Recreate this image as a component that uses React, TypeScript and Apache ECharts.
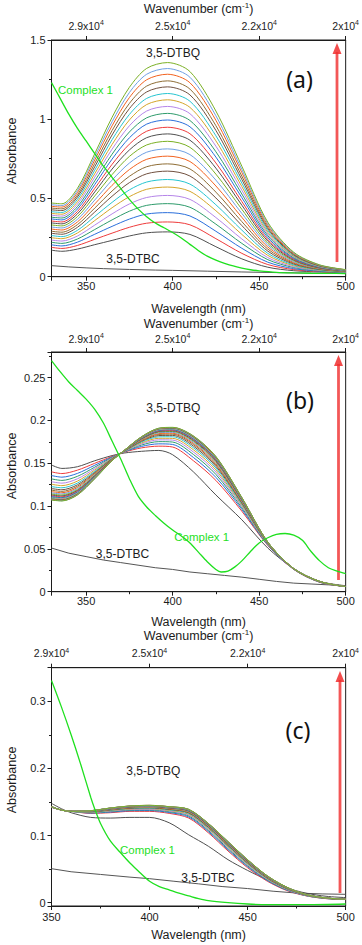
import React, { useEffect, useRef } from "react";
import * as echarts from "echarts";

// ---------------- data ----------------
// Panel (a)
const waveA = [330, 336, 345, 355, 365, 375, 385, 397, 410, 425, 440, 455, 470, 485, 500];
const dtbqA: number[][] = [
  [0.168, 0.161, 0.175, 0.203, 0.23, 0.258, 0.278, 0.284, 0.268, 0.19, 0.113, 0.06, 0.038, 0.03, 0.025],
  [0.186, 0.179, 0.198, 0.237, 0.276, 0.313, 0.339, 0.347, 0.329, 0.241, 0.148, 0.077, 0.045, 0.0326, 0.026],
  [0.202, 0.195, 0.219, 0.269, 0.319, 0.365, 0.397, 0.406, 0.385, 0.288, 0.18, 0.092, 0.051, 0.0351, 0.027],
  [0.218, 0.211, 0.239, 0.299, 0.36, 0.415, 0.452, 0.463, 0.44, 0.333, 0.211, 0.108, 0.058, 0.0375, 0.028],
  [0.232, 0.226, 0.258, 0.327, 0.398, 0.461, 0.502, 0.515, 0.49, 0.375, 0.239, 0.121, 0.063, 0.0397, 0.029],
  [0.247, 0.241, 0.277, 0.356, 0.437, 0.507, 0.554, 0.568, 0.541, 0.418, 0.268, 0.135, 0.069, 0.0419, 0.03],
  [0.261, 0.254, 0.294, 0.382, 0.471, 0.55, 0.6, 0.616, 0.587, 0.456, 0.295, 0.148, 0.074, 0.0439, 0.031],
  [0.275, 0.269, 0.313, 0.41, 0.51, 0.596, 0.652, 0.669, 0.638, 0.499, 0.324, 0.162, 0.08, 0.0461, 0.032],
  [0.288, 0.282, 0.33, 0.435, 0.543, 0.636, 0.697, 0.715, 0.683, 0.536, 0.349, 0.175, 0.085, 0.0481, 0.033],
  [0.302, 0.296, 0.347, 0.461, 0.579, 0.679, 0.744, 0.764, 0.73, 0.575, 0.376, 0.188, 0.09, 0.0501, 0.034],
  [0.315, 0.309, 0.364, 0.486, 0.612, 0.72, 0.789, 0.81, 0.774, 0.612, 0.401, 0.2, 0.095, 0.0521, 0.035],
  [0.328, 0.322, 0.381, 0.512, 0.647, 0.762, 0.835, 0.858, 0.82, 0.65, 0.427, 0.212, 0.101, 0.0541, 0.036],
  [0.341, 0.335, 0.398, 0.537, 0.682, 0.803, 0.881, 0.905, 0.865, 0.688, 0.453, 0.225, 0.106, 0.056, 0.037],
  [0.353, 0.347, 0.413, 0.56, 0.712, 0.84, 0.922, 0.947, 0.906, 0.721, 0.476, 0.236, 0.11, 0.0578, 0.037],
  [0.366, 0.36, 0.429, 0.584, 0.745, 0.88, 0.967, 0.993, 0.95, 0.758, 0.501, 0.248, 0.115, 0.0597, 0.038],
  [0.377, 0.372, 0.444, 0.607, 0.776, 0.917, 1.007, 1.035, 0.99, 0.792, 0.524, 0.26, 0.12, 0.0615, 0.039],
  [0.39, 0.384, 0.46, 0.631, 0.808, 0.956, 1.05, 1.079, 1.033, 0.827, 0.548, 0.271, 0.125, 0.0633, 0.04],
  [0.401, 0.396, 0.475, 0.653, 0.838, 0.993, 1.091, 1.121, 1.073, 0.861, 0.571, 0.282, 0.129, 0.0651, 0.041],
  [0.412, 0.407, 0.49, 0.675, 0.868, 1.028, 1.13, 1.161, 1.112, 0.893, 0.593, 0.293, 0.134, 0.0668, 0.041],
  [0.424, 0.419, 0.505, 0.697, 0.898, 1.065, 1.171, 1.203, 1.152, 0.927, 0.616, 0.304, 0.138, 0.0685, 0.042],
  [0.435, 0.43, 0.518, 0.718, 0.926, 1.098, 1.208, 1.241, 1.189, 0.957, 0.637, 0.314, 0.142, 0.0701, 0.043],
  [0.446, 0.441, 0.533, 0.74, 0.956, 1.135, 1.248, 1.283, 1.229, 0.991, 0.66, 0.325, 0.147, 0.0719, 0.044],
  [0.456, 0.451, 0.546, 0.76, 0.982, 1.167, 1.283, 1.319, 1.264, 1.02, 0.679, 0.335, 0.151, 0.0734, 0.044],
  [0.467, 0.462, 0.56, 0.78, 1.01, 1.2, 1.32, 1.357, 1.3, 1.05, 0.7, 0.345, 0.155, 0.075, 0.045],
];
const complexWaveA = [330, 335, 340, 345, 350, 355, 360, 365, 370, 375, 380, 385, 390, 395, 400, 405, 410, 415, 420, 425, 430, 435, 440, 445, 450, 460, 470, 480, 490, 500];
const complexA = [1.23, 1.13, 1.03, 0.94, 0.86, 0.78, 0.7, 0.63, 0.56, 0.49, 0.43, 0.38, 0.34, 0.31, 0.28, 0.245, 0.205, 0.165, 0.13, 0.105, 0.085, 0.068, 0.055, 0.044, 0.037, 0.028, 0.024, 0.022, 0.021, 0.02];
const dtbcWaveA = [330, 340, 350, 360, 375, 390, 400, 420, 440, 460, 480, 500];
const dtbcA = [0.07, 0.062, 0.056, 0.051, 0.046, 0.042, 0.04, 0.035, 0.03, 0.026, 0.023, 0.02];

// Panel (b)
const waveB = [330, 336, 345, 355, 365, 372, 382, 392, 400, 412, 425, 440, 455, 470, 485, 500];
const dtbqB: number[][] = [
  [0.148, 0.144, 0.146, 0.153, 0.159, 0.162, 0.164, 0.165, 0.16, 0.14, 0.113, 0.084, 0.051, 0.027, 0.012, 0.007],
  [0.14, 0.138, 0.142, 0.15, 0.158, 0.163, 0.168, 0.17, 0.169, 0.153, 0.13, 0.094, 0.054, 0.026, 0.011, 0.006],
  [0.1357, 0.1338, 0.1382, 0.1477, 0.1573, 0.1633, 0.1697, 0.1727, 0.172, 0.1568, 0.1336, 0.0961, 0.0545, 0.0261, 0.0111, 0.006],
  [0.1318, 0.13, 0.1348, 0.1455, 0.1568, 0.1635, 0.1713, 0.1753, 0.1748, 0.1603, 0.137, 0.098, 0.055, 0.0263, 0.0113, 0.006],
  [0.1285, 0.1268, 0.1319, 0.1437, 0.1563, 0.1637, 0.1726, 0.1774, 0.1771, 0.1632, 0.1398, 0.0996, 0.0554, 0.0264, 0.0114, 0.006],
  [0.1255, 0.1239, 0.1292, 0.1421, 0.1558, 0.1639, 0.1737, 0.1792, 0.1791, 0.1658, 0.1423, 0.101, 0.0558, 0.0264, 0.0114, 0.006],
  [0.1228, 0.1214, 0.1269, 0.1406, 0.1554, 0.164, 0.1748, 0.1809, 0.181, 0.1681, 0.1446, 0.1023, 0.0561, 0.0265, 0.0115, 0.006],
  [0.1205, 0.1191, 0.1249, 0.1394, 0.1551, 0.1642, 0.1757, 0.1824, 0.1826, 0.1701, 0.1465, 0.1034, 0.0564, 0.0266, 0.0116, 0.006],
  [0.1186, 0.1172, 0.1232, 0.1383, 0.1548, 0.1643, 0.1765, 0.1837, 0.184, 0.1719, 0.1482, 0.1044, 0.0566, 0.0267, 0.0117, 0.006],
  [0.1169, 0.1156, 0.1217, 0.1374, 0.1545, 0.1644, 0.1771, 0.1847, 0.1851, 0.1733, 0.1496, 0.1052, 0.0568, 0.0267, 0.0117, 0.006],
  [0.1154, 0.1142, 0.1204, 0.1366, 0.1543, 0.1645, 0.1777, 0.1857, 0.1861, 0.1746, 0.1509, 0.1059, 0.057, 0.0268, 0.0118, 0.006],
  [0.1141, 0.1129, 0.1192, 0.1359, 0.1541, 0.1646, 0.1782, 0.1865, 0.1871, 0.1758, 0.152, 0.1066, 0.0571, 0.0268, 0.0118, 0.006],
  [0.1129, 0.1118, 0.1182, 0.1352, 0.1539, 0.1646, 0.1787, 0.1872, 0.1879, 0.1768, 0.153, 0.1071, 0.0573, 0.0268, 0.0118, 0.006],
  [0.112, 0.1108, 0.1174, 0.1347, 0.1538, 0.1647, 0.1791, 0.1879, 0.1886, 0.1777, 0.1538, 0.1076, 0.0574, 0.0269, 0.0119, 0.006],
  [0.1111, 0.1099, 0.1166, 0.1342, 0.1536, 0.1648, 0.1794, 0.1884, 0.1892, 0.1784, 0.1546, 0.108, 0.0575, 0.0269, 0.0119, 0.006],
  [0.1103, 0.1092, 0.1159, 0.1338, 0.1535, 0.1648, 0.1797, 0.1889, 0.1897, 0.1791, 0.1552, 0.1084, 0.0576, 0.0269, 0.0119, 0.006],
  [0.1096, 0.1086, 0.1153, 0.1334, 0.1534, 0.1648, 0.18, 0.1893, 0.1902, 0.1797, 0.1558, 0.1087, 0.0577, 0.0269, 0.0119, 0.006],
  [0.1091, 0.108, 0.1148, 0.1331, 0.1533, 0.1649, 0.1802, 0.1897, 0.1906, 0.1802, 0.1562, 0.109, 0.0578, 0.0269, 0.0119, 0.006],
  [0.1086, 0.1075, 0.1144, 0.1329, 0.1532, 0.1649, 0.1804, 0.19, 0.1909, 0.1806, 0.1567, 0.1092, 0.0578, 0.027, 0.012, 0.006],
  [0.1082, 0.1071, 0.114, 0.1326, 0.1532, 0.1649, 0.1806, 0.1903, 0.1912, 0.181, 0.157, 0.1094, 0.0579, 0.027, 0.012, 0.006],
  [0.1078, 0.1068, 0.1137, 0.1324, 0.1531, 0.165, 0.1807, 0.1905, 0.1915, 0.1813, 0.1573, 0.1096, 0.0579, 0.027, 0.012, 0.006],
  [0.1075, 0.1065, 0.1134, 0.1323, 0.1531, 0.165, 0.1808, 0.1907, 0.1917, 0.1816, 0.1576, 0.1098, 0.0579, 0.027, 0.012, 0.006],
  [0.1072, 0.1062, 0.1132, 0.1321, 0.153, 0.165, 0.1809, 0.1909, 0.1918, 0.1818, 0.1578, 0.1099, 0.058, 0.027, 0.012, 0.006],
  [0.107, 0.106, 0.113, 0.132, 0.153, 0.165, 0.181, 0.191, 0.192, 0.182, 0.158, 0.11, 0.058, 0.027, 0.012, 0.006],
];
const complexWaveB = [330, 335, 340, 345, 350, 355, 360, 365, 370, 375, 380, 385, 390, 395, 400, 405, 410, 415, 420, 425, 428, 432, 436, 440, 445, 450, 455, 460, 465, 470, 475, 480, 485, 490, 495, 500];
const complexB = [0.27, 0.257, 0.245, 0.235, 0.225, 0.213, 0.197, 0.176, 0.155, 0.132, 0.112, 0.099, 0.089, 0.08, 0.072, 0.065, 0.057, 0.046, 0.035, 0.026, 0.023, 0.024, 0.029, 0.036, 0.047, 0.057, 0.063, 0.067, 0.068, 0.066, 0.06, 0.047, 0.036, 0.028, 0.024, 0.021];
const dtbcWaveB = [330, 340, 350, 360, 370, 380, 390, 400, 410, 420, 430, 440, 450, 460, 470, 480, 490, 500];
const dtbcB = [0.051, 0.045, 0.041, 0.037, 0.034, 0.031, 0.028, 0.026, 0.023, 0.021, 0.019, 0.017, 0.0145, 0.012, 0.01, 0.009, 0.008, 0.007];

// Panel (c)
const waveC = [350, 355, 360, 370, 380, 390, 400, 410, 420, 430, 440, 450, 460, 470, 480, 490, 500];
const dtbqC: number[][] = [
  [0.148, 0.14, 0.134, 0.127, 0.126, 0.127, 0.127, 0.119, 0.101, 0.084, 0.064, 0.048, 0.034, 0.022, 0.014, 0.0095, 0.0075],
  [0.142, 0.138, 0.136, 0.133, 0.134, 0.136, 0.136, 0.133, 0.126, 0.104, 0.077, 0.052, 0.032, 0.018, 0.01, 0.006, 0.005],
  [0.1421, 0.138, 0.136, 0.1335, 0.1349, 0.137, 0.1372, 0.1343, 0.1277, 0.1058, 0.0788, 0.0536, 0.033, 0.0187, 0.0103, 0.0061, 0.005],
  [0.1423, 0.138, 0.136, 0.134, 0.1358, 0.138, 0.1383, 0.1355, 0.1293, 0.1075, 0.0805, 0.055, 0.034, 0.0193, 0.0105, 0.0063, 0.005],
  [0.1424, 0.138, 0.136, 0.1344, 0.1365, 0.1388, 0.1392, 0.1365, 0.1306, 0.1089, 0.0819, 0.0562, 0.0348, 0.0198, 0.0107, 0.0064, 0.005],
  [0.1424, 0.138, 0.136, 0.1348, 0.1371, 0.1395, 0.14, 0.1374, 0.1317, 0.1102, 0.0832, 0.0573, 0.0355, 0.0202, 0.0109, 0.0064, 0.005],
  [0.1425, 0.138, 0.136, 0.1351, 0.1376, 0.1402, 0.1407, 0.1382, 0.1328, 0.1113, 0.0843, 0.0582, 0.0362, 0.0206, 0.011, 0.0065, 0.005],
  [0.1426, 0.138, 0.136, 0.1354, 0.1381, 0.1407, 0.1413, 0.1389, 0.1337, 0.1123, 0.0853, 0.0591, 0.0367, 0.021, 0.0112, 0.0066, 0.005],
  [0.1427, 0.138, 0.136, 0.1356, 0.1386, 0.1412, 0.1419, 0.1395, 0.1345, 0.1131, 0.0861, 0.0598, 0.0372, 0.0213, 0.0113, 0.0067, 0.005],
  [0.1427, 0.138, 0.136, 0.1358, 0.1389, 0.1416, 0.1423, 0.14, 0.1351, 0.1138, 0.0868, 0.0604, 0.0376, 0.0215, 0.0114, 0.0067, 0.005],
  [0.1428, 0.138, 0.136, 0.136, 0.1392, 0.142, 0.1427, 0.1405, 0.1357, 0.1144, 0.0874, 0.0609, 0.038, 0.0217, 0.0115, 0.0068, 0.005],
  [0.1428, 0.138, 0.136, 0.1361, 0.1395, 0.1423, 0.1431, 0.1409, 0.1362, 0.115, 0.088, 0.0614, 0.0383, 0.0219, 0.0116, 0.0068, 0.005],
  [0.1428, 0.138, 0.136, 0.1363, 0.1397, 0.1426, 0.1434, 0.1412, 0.1367, 0.1155, 0.0885, 0.0618, 0.0386, 0.0221, 0.0116, 0.0068, 0.005],
  [0.1429, 0.138, 0.136, 0.1364, 0.14, 0.1428, 0.1437, 0.1415, 0.1371, 0.1159, 0.0889, 0.0622, 0.0388, 0.0223, 0.0117, 0.0069, 0.005],
  [0.1429, 0.138, 0.136, 0.1365, 0.1401, 0.143, 0.1439, 0.1418, 0.1374, 0.1163, 0.0893, 0.0625, 0.039, 0.0224, 0.0118, 0.0069, 0.005],
  [0.1429, 0.138, 0.136, 0.1366, 0.1403, 0.1432, 0.1441, 0.142, 0.1377, 0.1166, 0.0896, 0.0628, 0.0392, 0.0225, 0.0118, 0.0069, 0.005],
  [0.1429, 0.138, 0.136, 0.1367, 0.1404, 0.1434, 0.1443, 0.1422, 0.138, 0.1169, 0.0899, 0.0631, 0.0394, 0.0226, 0.0118, 0.0069, 0.005],
  [0.1429, 0.138, 0.136, 0.1367, 0.1406, 0.1435, 0.1444, 0.1424, 0.1382, 0.1171, 0.0901, 0.0632, 0.0395, 0.0227, 0.0119, 0.0069, 0.005],
  [0.143, 0.138, 0.136, 0.1368, 0.1407, 0.1436, 0.1446, 0.1425, 0.1384, 0.1173, 0.0903, 0.0634, 0.0396, 0.0228, 0.0119, 0.007, 0.005],
  [0.143, 0.138, 0.136, 0.1369, 0.1408, 0.1437, 0.1447, 0.1427, 0.1385, 0.1175, 0.0905, 0.0636, 0.0397, 0.0228, 0.0119, 0.007, 0.005],
  [0.143, 0.138, 0.136, 0.1369, 0.1408, 0.1438, 0.1448, 0.1428, 0.1387, 0.1177, 0.0907, 0.0637, 0.0398, 0.0229, 0.012, 0.007, 0.005],
  [0.143, 0.138, 0.136, 0.1369, 0.1409, 0.1439, 0.1449, 0.1429, 0.1388, 0.1178, 0.0908, 0.0638, 0.0399, 0.0229, 0.012, 0.007, 0.005],
  [0.143, 0.138, 0.136, 0.137, 0.141, 0.1439, 0.1449, 0.1429, 0.1389, 0.1179, 0.0909, 0.0639, 0.0399, 0.023, 0.012, 0.007, 0.005],
  [0.143, 0.138, 0.136, 0.137, 0.141, 0.144, 0.145, 0.143, 0.139, 0.118, 0.091, 0.064, 0.04, 0.023, 0.012, 0.007, 0.005],
];
const complexWaveC = [350, 355, 360, 365, 370, 372, 375, 380, 385, 390, 395, 400, 405, 410, 415, 420, 425, 430, 440, 450, 460, 480, 500];
const complexC = [0.331, 0.292, 0.25, 0.205, 0.157, 0.14, 0.118, 0.092, 0.075, 0.059, 0.045, 0.032, 0.024, 0.019, 0.014, 0.01, 0.006, 0.003, 0.0, -0.002, -0.003, -0.003, -0.002];
const dtbcWaveC = [350, 360, 375, 390, 400, 412, 425, 437, 450, 463, 475, 488, 500];
const dtbcC = [0.0506, 0.046, 0.042, 0.038, 0.0357, 0.032, 0.028, 0.024, 0.021, 0.017, 0.0143, 0.013, 0.0124];

// Top axis (wavenumber) tick labels, placed at wavelength positions
const topTickWavelengths = [350, 400, 450, 500];
const topTickMantissas = ["2.9", "2.5", "2.2", "2"];

const curvePalette = [
  "#4f4f4f", "#ee3b3b", "#2a6fdb", "#2e9b6b", "#b585e8", "#d4a52a",
  "#27c5d0", "#70503f", "#8e6d35", "#f2621f", "#6e9fe3", "#7bb026",
];

const FONT = '"Liberation Sans", Arial, Helvetica, sans-serif';
const INK = "#1c1c1c";
const GREEN = "#1fe01f";
const DTBC_GRAY = "#555555";

function pairs(xs: number[], ys: number[]) {
  return xs.map((x, i) => [x, ys[i]]);
}

export default function App() {
  const ref = useRef<HTMLDivElement>(null);

  useEffect(() => {
    if (!ref.current) return;
    const chart = echarts.init(ref.current, null, { renderer: "svg" });

    const gridDefs = [
      { left: 51.5, width: 296, top: 39, height: 237.7 },
      { left: 51.5, width: 296, top: 352, height: 239.7 },
      { left: 51.5, width: 296, top: 667.7, height: 238.3 },
    ];
    const panels = [
      { xMin: 330, xMax: 500, xInterval: undefined as number | undefined, yMin: 0, yMax: 1.5, ySplit: 3, showMinX: false, hideYMin: false, hideYMax: false, topGap: 24, topMargin: 8, botMargin: 4, botGap: 26 },
      { xMin: 330, xMax: 500, xInterval: undefined as number | undefined, yMin: 0, yMax: 0.28, ySplit: 5, showMinX: false, hideYMin: false, hideYMax: true, topGap: 21, topMargin: 7, botMargin: 4, botGap: 24 },
      { xMin: 350, xMax: 500, xInterval: 50 as number | undefined, yMin: -0.005, yMax: 0.35, ySplit: 4, showMinX: true, hideYMin: true, hideYMax: true, topGap: 24, topMargin: 8, botMargin: 5, botGap: 22 },
    ];

    const axisLineStyle = { color: INK, width: 1 };
    const xAxes: any[] = [];
    const yAxes: any[] = [];
    panels.forEach((p, i) => {
      const intervalOpt = p.xInterval ? { interval: p.xInterval } : { splitNumber: 4 };
      xAxes.push({
        type: "value",
        gridIndex: i,
        position: "bottom",
        min: p.xMin,
        max: p.xMax,
        ...intervalOpt,
        name: "Wavelength (nm)",
        nameLocation: "middle",
        nameGap: p.botGap,
        nameTextStyle: { fontFamily: FONT, fontSize: 12.5, color: INK },
        axisLine: { show: true, onZero: false, lineStyle: axisLineStyle },
        axisTick: { show: true, length: 4, lineStyle: axisLineStyle },
        minorTick: { show: true, splitNumber: 2, length: 2.5, lineStyle: axisLineStyle },
        axisLabel: { fontFamily: FONT, fontSize: 11, color: INK, margin: p.botMargin, showMinLabel: p.showMinX },
        splitLine: { show: false },
      });
      xAxes.push({
        type: "value",
        gridIndex: i,
        position: "top",
        min: p.xMin,
        max: p.xMax,
        ...intervalOpt,
        name: "{a|Wavenumber (cm}{s|-1}{a|)}",
        nameLocation: "middle",
        nameGap: p.topGap,
        nameTextStyle: {
          rich: {
            a: { fontFamily: FONT, fontSize: 12.5, color: INK, lineHeight: 15 },
            s: { fontFamily: FONT, fontSize: 8, color: INK, verticalAlign: "top", lineHeight: 9 },
          },
        },
        axisLine: { show: true, onZero: false, lineStyle: axisLineStyle },
        axisTick: { show: true, length: 4, lineStyle: axisLineStyle },
        minorTick: { show: false },
        axisLabel: {
          margin: p.topMargin,
          showMinLabel: p.showMinX,
          formatter: (v: number) => {
            const k = topTickWavelengths.indexOf(Math.round(v));
            if (k < 0) return "";
            return `{m|${topTickMantissas[k]}x10}{e|4}`;
          },
          rich: {
            m: { fontFamily: FONT, fontSize: 10.5, color: INK, lineHeight: 13 },
            e: { fontFamily: FONT, fontSize: 7, color: INK, verticalAlign: "top", lineHeight: 7 },
          },
        },
        splitLine: { show: false },
      });
      yAxes.push({
        type: "value",
        gridIndex: i,
        min: p.yMin,
        max: p.yMax,
        splitNumber: p.ySplit,
        axisLine: { show: true, onZero: false, lineStyle: axisLineStyle },
        axisTick: { show: true, length: 4, lineStyle: axisLineStyle },
        minorTick: { show: true, splitNumber: 2, length: 2.5, lineStyle: axisLineStyle },
        axisLabel: {
          fontFamily: FONT, fontSize: 11, color: INK, margin: 6,
          showMinLabel: !p.hideYMin, showMaxLabel: !p.hideYMax,
        },
        splitLine: { show: false },
      });
    });

    const series: any[] = [];
    const addBand = (panel: number, xs: number[], curves: number[][]) => {
      curves.forEach((ys, k) => {
        series.push({
          type: "line",
          xAxisIndex: panel * 2,
          yAxisIndex: panel,
          data: pairs(xs, ys),
          symbol: "none",
          showSymbol: false,
          smooth: 0.3,
          silent: true,
          z: 2,
          lineStyle: { width: 1, color: curvePalette[k % curvePalette.length] },
        });
      });
    };
    const addLine = (panel: number, xs: number[], ys: number[], color: string, width: number, smooth: number | boolean, z: number) => {
      series.push({
        type: "line",
        xAxisIndex: panel * 2,
        yAxisIndex: panel,
        data: pairs(xs, ys),
        symbol: "none",
        showSymbol: false,
        smooth,
        silent: true,
        z,
        lineStyle: { width, color },
      });
    };

    addLine(0, dtbcWaveA, dtbcA, DTBC_GRAY, 1, false, 2);
    addBand(0, waveA, dtbqA);
    addLine(0, complexWaveA, complexA, GREEN, 1.3, 0.3, 3);

    addLine(1, dtbcWaveB, dtbcB, DTBC_GRAY, 1, false, 2);
    addBand(1, waveB, dtbqB);
    addLine(1, complexWaveB, complexB, GREEN, 1.3, 0.3, 3);

    addLine(2, dtbcWaveC, dtbcC, DTBC_GRAY, 1, false, 2);
    addBand(2, waveC, dtbqC);
    addLine(2, complexWaveC, complexC, GREEN, 1.3, 0.3, 3);

    const label = (text: string, x: number, y: number, color = INK, size = 12) => ({
      type: "text",
      x,
      y,
      z: 10,
      style: { text, fill: color, font: `${size}px ${FONT}`, align: "center", verticalAlign: "middle" },
    });
    const panelTag = (text: string, x: number, y: number) => ({
      type: "text",
      x,
      y,
      z: 10,
      style: { text, fill: "#111", font: `23px "Noto Sans", "Open Sans", sans-serif`, align: "center", verticalAlign: "middle" },
    });
    const yTitle = (y: number) => ({
      type: "text",
      x: 12,
      y,
      rotation: Math.PI / 2,
      z: 10,
      style: { text: "Absorbance", fill: INK, font: `12.5px ${FONT}`, align: "center", verticalAlign: "middle" },
    });
    const arrow = (x: number, tip: number, bottom: number) => ({
      type: "group",
      z: 11,
      children: [
        { type: "rect", shape: { x: x - 1.4, y: tip + 9, width: 2.8, height: bottom - tip - 9 }, style: { fill: "rgba(240,45,45,0.8)" } },
        { type: "polygon", shape: { points: [[x - 4.5, tip + 11], [x, tip], [x + 4.5, tip + 11]] }, style: { fill: "rgba(240,45,45,0.85)" } },
      ],
    });

    const graphic = [
      label("3,5-DTBQ", 173, 53),
      label("Complex 1", 85.5, 90, GREEN, 11.5),
      label("3,5-DTBC", 133, 258.5),
      label("3,5-DTBQ", 173.3, 408.3),
      label("Complex 1", 201.7, 536.7, GREEN, 11.5),
      label("3,5-DTBC", 122.5, 554),
      label("3,5-DTBQ", 153.3, 770.7),
      label("Complex 1", 147.5, 850, GREEN, 11.5),
      label("3,5-DTBC", 208, 877.7),
      panelTag("(a)", 299.5, 79),
      panelTag("(b)", 300, 400),
      panelTag("(c)", 298, 730),
      yTitle(151),
      yTitle(466),
      yTitle(780),
      arrow(337, 43, 262),
      arrow(338.5, 355, 580),
      arrow(340, 671, 893),
    ];

    chart.setOption({
      animation: false,
      backgroundColor: "#ffffff",
      textStyle: { fontFamily: FONT },
      grid: gridDefs.map((g) => ({ ...g, show: true, borderColor: INK, borderWidth: 1, backgroundColor: "transparent" })),
      xAxis: xAxes,
      yAxis: yAxes,
      series,
      graphic,
    });

    return () => chart.dispose();
  }, []);

  return <div ref={ref} style={{ position: "absolute", left: 0, top: 0, width: 362, height: 945 }} />;
}
